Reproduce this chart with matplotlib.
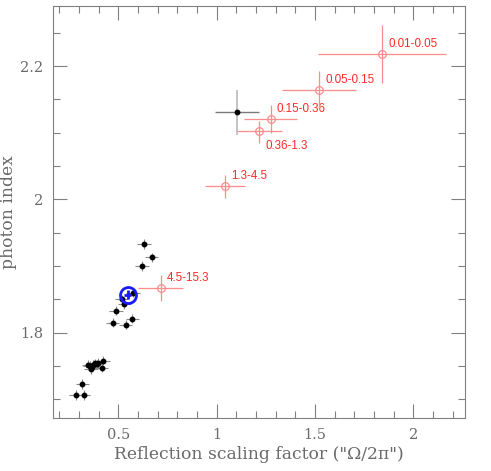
import numpy as np
import matplotlib
matplotlib.use("Agg")
import matplotlib.pyplot as plt
from matplotlib.ticker import MultipleLocator

# ----- data ----------------------------------------------------------------
# binned (red, open circles): label, x, x-lo, x-hi, y, y-lo, y-hi
bin_labels = ["0.01-0.05", "0.05-0.15", "0.15-0.36", "0.36-1.3", "1.3-4.5", "4.5-15.3"]
bin_x    = [1.842, 1.520, 1.275, 1.215, 1.044, 0.715]
bin_xlo  = [1.517, 1.334, 1.141, 1.102, 0.939, 0.602]
bin_xhi  = [2.166, 1.708, 1.410, 1.331, 1.147, 0.827]
bin_y    = [2.218, 2.164, 2.121, 2.102, 2.020, 1.867]
bin_ylo  = [2.175, 2.137, 2.099, 2.085, 2.002, 1.847]
bin_yhi  = [2.261, 2.192, 2.141, 2.118, 2.037, 1.887]
label_below = [False, False, False, True, False, False]

# individual observations (black dots)
obs_x = [0.631, 0.670, 0.620, 0.575, 0.517, 0.531, 0.488, 0.471, 0.537, 0.571,
         0.348, 0.361, 0.373, 0.381, 0.390, 0.398, 0.369, 0.415, 0.422, 0.356,
         0.317, 0.283, 0.325]
obs_y = [1.933, 1.913, 1.900, 1.860, 1.850, 1.843, 1.833, 1.815, 1.812, 1.821,
         1.7515, 1.745, 1.7515, 1.754, 1.7525, 1.755, 1.749, 1.7475, 1.758, 1.750,
         1.723, 1.7065, 1.7065]
obs_xerr = 0.034
obs_yerr = 0.007

# the one poorly constrained observation
odd_x, odd_xlo, odd_xhi = 1.103, 0.992, 1.217
odd_y, odd_ylo, odd_yhi = 2.1305, 2.0965, 2.164

# average (blue)
avg_x, avg_xerr = 0.5475, 0.016
avg_y, avg_yerr = 1.857, 0.007

GREY_TXT = "#6a6a6a"
RED_BAR = "#ff8c8c"
RED_TXT = "#ff2a2a"

fig = plt.figure(figsize=(4.91, 4.71), dpi=100)
ax = fig.add_axes([0.1086, 0.1125, 0.8384, 0.8745])

# black dots
ax.errorbar(obs_x, obs_y, xerr=obs_xerr, yerr=obs_yerr, fmt="o", ms=3.2,
            color="black", ecolor="#8a8a8a", elinewidth=0.8, capsize=0, zorder=4)

# odd point
ax.errorbar([odd_x], [odd_y], xerr=[[odd_x - odd_xlo], [odd_xhi - odd_x]],
            fmt="o", ms=3.2, color="black", ecolor="#7a7a7a", elinewidth=1.0, capsize=0, zorder=4)
ax.errorbar([odd_x], [odd_y], yerr=[[odd_y - odd_ylo], [odd_yhi - odd_y]],
            fmt="none", ecolor="#c4c4c4", elinewidth=1.4, capsize=0, zorder=3)

# binned red points
bx = np.array(bin_x); by = np.array(bin_y)
ax.errorbar(bx, by,
            xerr=[bx - np.array(bin_xlo), np.array(bin_xhi) - bx],
            yerr=[by - np.array(bin_ylo), np.array(bin_yhi) - by],
            fmt="o", ms=5.5, mfc="none", mec=RED_BAR, mew=0.9,
            ecolor=RED_BAR, elinewidth=0.9, capsize=0, zorder=5)
for lab, x, y, below in zip(bin_labels, bin_x, bin_y, label_below):
    if below:
        ax.annotate(lab, (x, y), xytext=(4.5, -6.5), textcoords="offset points",
                    ha="left", va="top", color=RED_TXT, fontsize=8.4,
                    family="Liberation Sans")
    else:
        ax.annotate(lab, (x, y), xytext=(4.5, 3), textcoords="offset points",
                    ha="left", va="bottom", color=RED_TXT, fontsize=8.4,
                    family="Liberation Sans")

# blue average
ax.errorbar([avg_x], [avg_y], xerr=avg_xerr, yerr=avg_yerr, fmt="o", ms=11.5,
            mfc="none", mec="#1a1aff", mew=2.0, ecolor="#1a1aff", elinewidth=2.0,
            capsize=0, zorder=6)

ax.set_xlim(0.17, 2.263)
ax.set_ylim(1.672, 2.29)
ax.xaxis.set_major_locator(MultipleLocator(0.5))
ax.xaxis.set_minor_locator(MultipleLocator(0.1))
ax.yaxis.set_major_locator(MultipleLocator(0.2))
ax.yaxis.set_minor_locator(MultipleLocator(0.05))
ax.xaxis.set_major_formatter(plt.FuncFormatter(lambda v, p: f"{v:g}"))
ax.yaxis.set_major_formatter(plt.FuncFormatter(lambda v, p: f"{v:g}"))
ax.tick_params(which="both", direction="in", top=True, right=True,
               color="#808080", labelcolor=GREY_TXT, labelsize=10.5)
ax.tick_params(which="major", length=10, width=0.8, pad=7)
ax.tick_params(which="minor", length=5, width=0.8)
for lbl in ax.get_xticklabels() + ax.get_yticklabels():
    lbl.set_family("DejaVu Serif")
for s in ax.spines.values():
    s.set_color("#808080")
    s.set_linewidth(0.8)

ax.set_xlabel('Reflection scaling factor ("Ω/2π")', family="DejaVu Serif",
              fontsize=12.3, color=GREY_TXT, labelpad=3)
ax.set_ylabel("photon index", family="DejaVu Serif", fontsize=12.3,
              color=GREY_TXT)
ax.yaxis.set_label_coords(-0.088, 0.5)

fig.savefig("out.png", dpi=100, facecolor="white")
